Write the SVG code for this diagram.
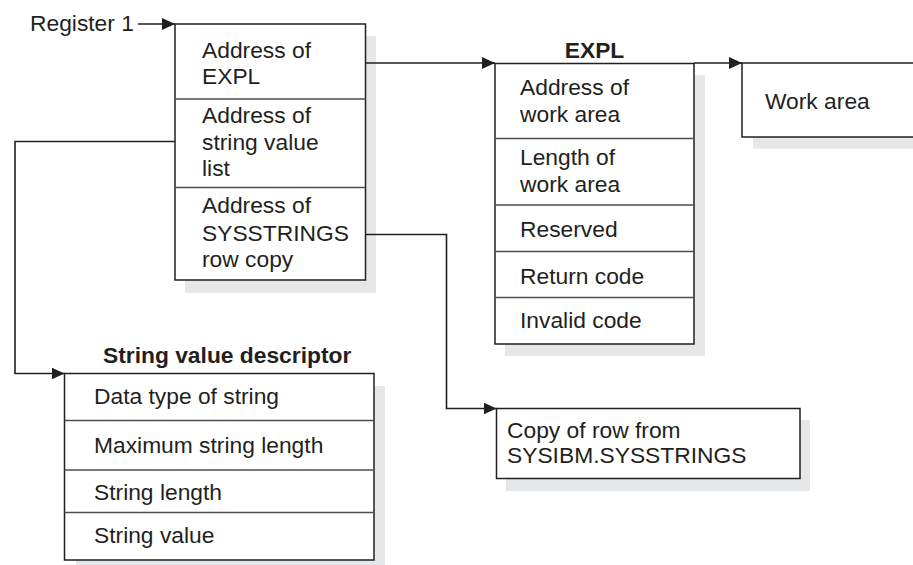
<svg xmlns="http://www.w3.org/2000/svg" width="913" height="565" viewBox="0 0 913 565">
<style>
text{font-family:"Liberation Sans",Arial,sans-serif;font-size:22.8px;fill:#231f20}
.b{font-weight:bold}
.shadow{fill:#e6e7e8;stroke:none}
.box{fill:#ffffff;stroke:#231f20;stroke-width:1.5}
.div{stroke:#4d4d4f;stroke-width:1.5}
.conn{fill:none;stroke:#231f20;stroke-width:1.6}
</style>
<defs>
<marker id="ah" markerWidth="13" markerHeight="12" refX="13" refY="6" orient="auto" markerUnits="userSpaceOnUse">
<path d="M0,0 L13,6 L0,12 Z" fill="#231f20"/>
</marker>
</defs>
<rect width="913" height="565" fill="#ffffff"/>

<g id="register1">
<text x="30" y="31">Register 1</text>
</g>

<g id="parmlist">
<rect class="shadow" x="185" y="36" width="191" height="257"/>
<rect class="box" x="175" y="24" width="190.5" height="256"/>
<line class="div" x1="175" y1="99" x2="365.5" y2="99"/>
<line class="div" x1="175" y1="187.5" x2="365.5" y2="187.5"/>
<text x="202" y="58">Address of</text>
<text x="202" y="84">EXPL</text>
<text x="202" y="123">Address of</text>
<text x="202" y="150">string value</text>
<text x="202" y="176">list</text>
<text x="202" y="213">Address of</text>
<text x="202" y="241">SYSSTRINGS</text>
<text x="202" y="267">row copy</text>
</g>

<g id="expl">
<rect class="shadow" x="505" y="75" width="200" height="281"/>
<rect class="box" x="495" y="63.5" width="199" height="280.5"/>
<line class="div" x1="495" y1="138.5" x2="694" y2="138.5"/>
<line class="div" x1="495" y1="205" x2="694" y2="205"/>
<line class="div" x1="495" y1="251.5" x2="694" y2="251.5"/>
<line class="div" x1="495" y1="297.5" x2="694" y2="297.5"/>
<text class="b" x="594.5" y="57.5" text-anchor="middle">EXPL</text>
<text x="520" y="95">Address of</text>
<text x="520" y="121.5">work area</text>
<text x="520" y="165">Length of</text>
<text x="520" y="191.5">work area</text>
<text x="520" y="236.5">Reserved</text>
<text x="520" y="284">Return code</text>
<text x="520" y="328">Invalid code</text>
</g>

<g id="workarea">
<rect class="shadow" x="753" y="75" width="180" height="73.5"/>
<rect class="box" x="742" y="63" width="200" height="74"/>
<text x="765" y="109">Work area</text>
</g>

<g id="stringvalue">
<rect class="shadow" x="76" y="386" width="309" height="190"/>
<rect class="box" x="64.5" y="373.5" width="309.5" height="186.5"/>
<line class="div" x1="64.5" y1="420.5" x2="374" y2="420.5"/>
<line class="div" x1="64.5" y1="470" x2="374" y2="470"/>
<line class="div" x1="64.5" y1="512.5" x2="374" y2="512.5"/>
<text class="b" x="103" y="363">String value descriptor</text>
<text x="94" y="404">Data type of string</text>
<text x="94" y="452.5">Maximum string length</text>
<text x="94" y="500">String length</text>
<text x="94" y="543">String value</text>
</g>

<g id="rowcopy">
<rect class="shadow" x="506" y="420" width="304" height="71"/>
<rect class="box" x="496.5" y="408.5" width="303.5" height="70"/>
<text x="507" y="437.5">Copy of row from</text>
<text x="507" y="463">SYSIBM.SYSSTRINGS</text>
</g>

<g id="connectors">
<path class="conn" d="M138,24 L175,24" marker-end="url(#ah)"/>
<path class="conn" d="M365.5,63 L495,63" marker-end="url(#ah)"/>
<path class="conn" d="M694,63 L742,63" marker-end="url(#ah)"/>
<path class="conn" d="M175,141.5 L15,141.5 L15,373.5 L64.5,373.5" marker-end="url(#ah)"/>
<path class="conn" d="M365.5,234.5 L446.5,234.5 L446.5,408.5 L496.5,408.5" marker-end="url(#ah)"/>
</g>
</svg>
